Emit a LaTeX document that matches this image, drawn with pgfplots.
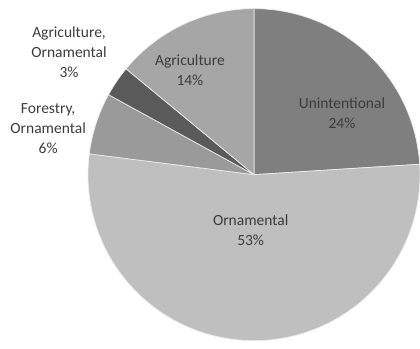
\documentclass[border=0pt]{standalone}
\usepackage{pgfplots}
\usepackage{pgfplotstable}
\pgfplotsset{compat=1.18}
\usepackage{fontspec}
\setmainfont{Carlito}

\definecolor{cUnint}{HTML}{7F7F7F}
\definecolor{cOrn}{HTML}{BFBFBF}
\definecolor{cFor}{HTML}{9A9A9A}
\definecolor{cAgOrn}{HTML}{5A5A5A}
\definecolor{cAgri}{HTML}{A6A6A6}
\definecolor{txt}{HTML}{3C3C3C}

% share of each pathway (percent), clockwise from 12 o'clock
\pgfplotstableread{
pathway        pct
Unintentional  24
Ornamental     53
ForestryOrn    6
AgricultureOrn 3
Agriculture    14
}\piedata

\begin{document}
\begin{tikzpicture}
% slice boundaries in degrees, starting at 90 and running clockwise
\pgfplotstablegetelem{0}{pct}\of\piedata \pgfmathsetmacro\aA{90-3.6*\pgfplotsretval}
\pgfplotstablegetelem{1}{pct}\of\piedata \pgfmathsetmacro\aB{\aA-3.6*\pgfplotsretval}
\pgfplotstablegetelem{2}{pct}\of\piedata \pgfmathsetmacro\aC{\aB-3.6*\pgfplotsretval}
\pgfplotstablegetelem{3}{pct}\of\piedata \pgfmathsetmacro\aD{\aC-3.6*\pgfplotsretval}
\pgfplotstablegetelem{4}{pct}\of\piedata \pgfmathsetmacro\aE{\aD-3.6*\pgfplotsretval}
\begin{axis}[
  hide axis,
  scale only axis,
  width=420bp, height=349bp,
  xmin=-1.53, xmax=1.0,
  ymin=-1.05, ymax=1.052,
]
\pgfplotsset{slice/.style={draw=white!85!gray, line width=0.7pt, samples=90, smooth}}
\addplot[slice, fill=cUnint,  domain=\aA:90]  ({cos(x)},{sin(x)}) -- (axis cs:0,0) -- cycle;
\addplot[slice, fill=cOrn,    domain=\aB:\aA] ({cos(x)},{sin(x)}) -- (axis cs:0,0) -- cycle;
\addplot[slice, fill=cFor,    domain=\aC:\aB] ({cos(x)},{sin(x)}) -- (axis cs:0,0) -- cycle;
\addplot[slice, fill=cAgOrn,  domain=\aD:\aC] ({cos(x)},{sin(x)}) -- (axis cs:0,0) -- cycle;
\addplot[slice, fill=cAgri,   domain=\aE:\aD] ({cos(x)},{sin(x)}) -- (axis cs:0,0) -- cycle;

\tikzset{lbl/.style={text=txt, align=center, inner sep=0pt,
  font=\fontsize{15.5bp}{20bp}\selectfont}}
\node[lbl] at (axis cs:0.53,0.373)   {Unintentional\\24\%};
\node[lbl] at (axis cs:-0.02,-0.337) {Ornamental\\53\%};
\node[lbl] at (axis cs:-0.386,0.627) {Agriculture\\14\%};
\node[lbl] at (axis cs:-1.114,0.735) {Agriculture,\\Ornamental\\3\%};
\node[lbl] at (axis cs:-1.24,0.277)  {Forestry,\\Ornamental\\6\%};
\end{axis}
\pgfresetboundingbox
\path[use as bounding box] (current axis.south west) rectangle (current axis.north east);
\end{tikzpicture}
\end{document}
